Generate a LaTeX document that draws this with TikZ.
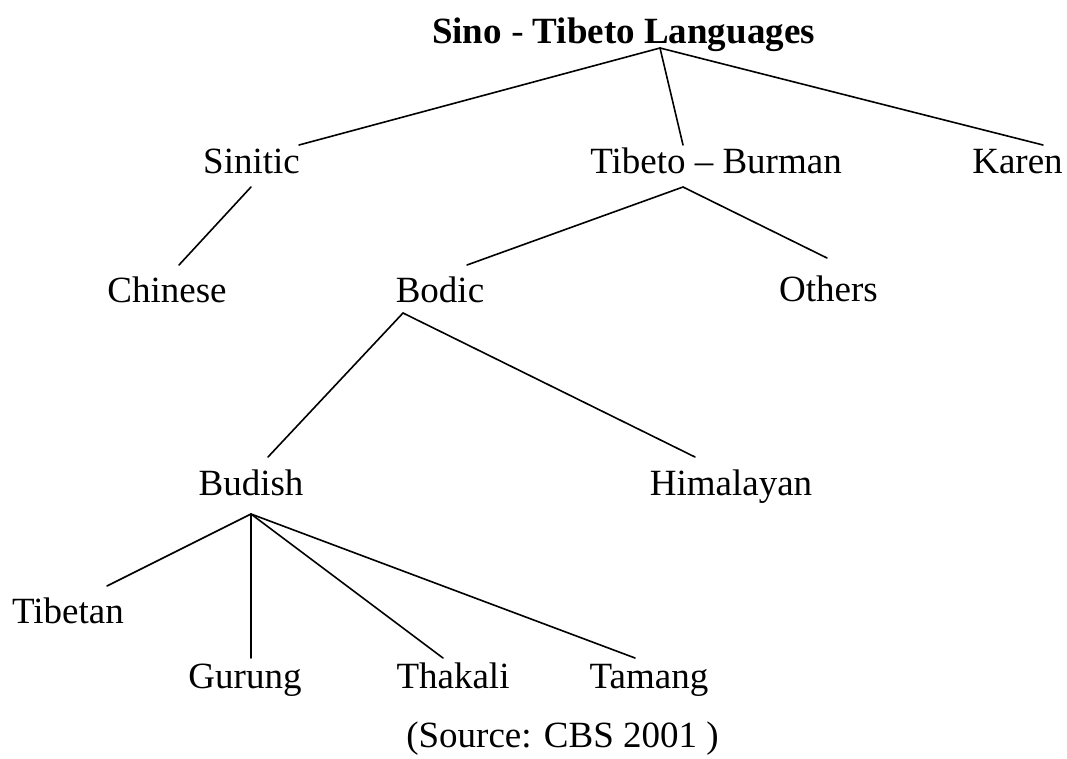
\documentclass[tikz,border=0pt]{standalone}
\usepackage{fontspec}
\setmainfont{Liberation Serif}
\usetikzlibrary{calc}

\tikzset{
  lang/.style={anchor=base,inner sep=0pt,font=\fontsize{37}{40}\selectfont},
  branch/.style={line width=1.6pt,line cap=round}
}

\begin{document}
\begin{tikzpicture}[x=1pt,y=-1pt]
  \useasboundingbox (0,0) rectangle (1067,758);
  % Nodes (base line at given y, pixel layout)
  \node[lang] (title) at (623.5,43) {\textbf{Sino} - \textbf{Tibeto Languages}};
  \node[lang] (sinitic) at (251.5,173) {Sinitic};
  \node[lang] (tb) at (716,173) {Tibeto -- Burman};
  \node[lang] (karen) at (1017.5,173) {Karen};
  \node[lang] (chinese) at (167,302) {Chinese};
  \node[lang] (bodic) at (440,302) {Bodic};
  \node[lang] (others) at (828.5,301) {Others};
  \node[lang] (budish) at (251,495) {Budish};
  \node[lang] (himalayan) at (731,495) {Himalayan};
  \node[lang] (tibetan) at (68,623) {Tibetan};
  \node[lang] (gurung) at (245,688) {Gurung};
  \node[lang] (thakali) at (453,688) {Thakali};
  \node[lang] (tamang) at (649,688) {Tamang};
  \node[lang] (source) at (562.5,747) {(Source: CBS 2001 )};
  % joints
  \coordinate (rootJ) at ([shift={(36.5,5)}]title.base);
  \coordinate (siniticJ) at ([shift={(-0.5,14)}]sinitic.base);
  \coordinate (tbJ) at ([shift={(-33,14)}]tb.base);
  \coordinate (bodicJ) at ([shift={(-37,11)}]bodic.base);
  \coordinate (budishJ) at ([shift={(0,19)}]budish.base);
  % branches
  \draw[branch] (rootJ) -- ([shift={(47.5,-28)}]sinitic.base);
  \draw[branch] (rootJ) -- ([shift={(-33,-28)}]tb.base);
  \draw[branch] (rootJ) -- ([shift={(25.5,-28)}]karen.base);
  \draw[branch] (siniticJ) -- ([shift={(12,-37)}]chinese.base);
  \draw[branch] (tbJ) -- ([shift={(27,-37)}]bodic.base);
  \draw[branch] (tbJ) -- ([shift={(-1.5,-43)}]others.base);
  \draw[branch] (bodicJ) -- ([shift={(17,-38)}]budish.base);
  \draw[branch] (bodicJ) -- ([shift={(-36,-38)}]himalayan.base);
  \draw[branch] (budishJ) -- ([shift={(39,-37)}]tibetan.base);
  \draw[branch] (budishJ) -- ([shift={(6,-30)}]gurung.base);
  \draw[branch] (budishJ) -- ([shift={(-10,-30)}]thakali.base);
  \draw[branch] (budishJ) -- ([shift={(-14,-30)}]tamang.base);
\end{tikzpicture}
\end{document}
